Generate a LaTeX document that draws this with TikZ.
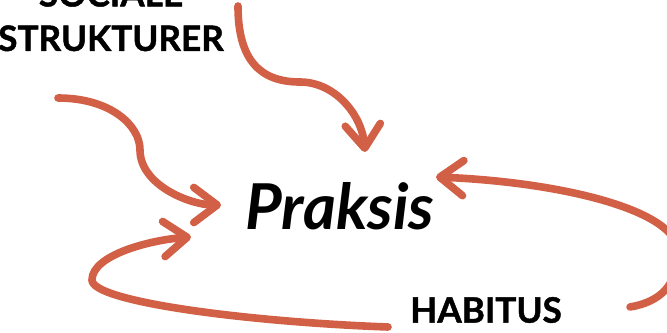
\documentclass[tikz,border=0pt]{standalone}
\usepackage{fontspec}
\setmainfont{Lato}[BoldFeatures={FakeBold=1.2}]
\usepackage{xcolor}
\usetikzlibrary{arrows.meta}
\definecolor{pilrod}{HTML}{D26046}

\begin{document}
\begin{tikzpicture}[x=0.03cm, y=-0.03cm,
	pil/.style={line width=6.5pt, pilrod, line cap=round,
		-{Straight Barb[length=20pt, width=30pt, round]}},
	ord/.style={font=\bfseries\fontsize{30}{38}\selectfont, inner sep=0pt}]
	\useasboundingbox (0,0) rectangle (667,332);
	\clip (0,0) rectangle (667,332);
	% tekst
	\node[ord, align=center] (soc) at (111,16) {SOCIALE\\STRUKTURER};
	\node[inner sep=0pt, font=\bfseries\itshape\fontsize{54}{54}\selectfont] (praksis) at (340,206) {Praksis};
	\node[ord] (hab) at (486,310) {HABITUS};
	% start- og slutpunkter
	\coordinate (s1) at (238,6);
	\coordinate (s2) at (58,98);
	\coordinate (s3) at (388,327);
	\coordinate (s4) at (630,307);
	\coordinate (m1) at (300,82);
	\coordinate (m2) at (140,150);
	\coordinate (m3) at (92,280);
	\coordinate (m4) at (678,252);
	% pile
	\draw[pil] (s1) .. controls (238,60) and (260,82) .. (m1) .. controls (335,82) and (362,115) .. (365,152);
	\draw[pil] (s2) .. controls (110,98) and (140,125) .. (m2) .. controls (140,185) and (190,205) .. (221,205);
	\draw[pil] (s3) .. controls (250,322) and (92,302) .. (m3) .. controls (92,255) and (150,240) .. (191,237);
	\draw[pil] (s4) .. controls (660,302) and (678,285) .. (m4) .. controls (678,210) and (560,182) .. (436,177);
\end{tikzpicture}
\end{document}
